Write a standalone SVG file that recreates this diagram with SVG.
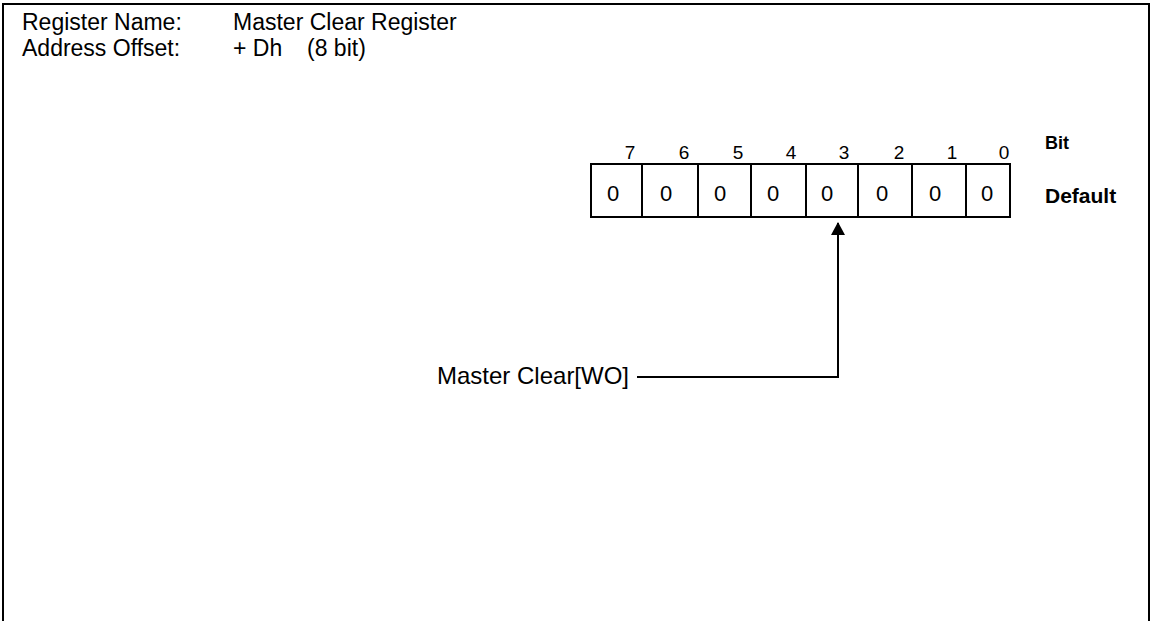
<svg xmlns="http://www.w3.org/2000/svg" width="1151" height="621" viewBox="0 0 1151 621">
<style>
text{font-family:"Liberation Sans",Arial,sans-serif;fill:#000}
.h{font-size:23px}
.l{font-size:24px}
.n{font-size:19px;text-anchor:middle}
.v{font-size:22px;text-anchor:middle}
.b{font-weight:bold}
.ln{stroke:#000;stroke-width:2;fill:none}
</style>
<defs>
<marker id="ah" markerWidth="13" markerHeight="14" refX="12" refY="7" orient="auto" markerUnits="userSpaceOnUse" viewBox="0 0 13 14">
<path d="M0,0 L13,7 L0,14 Z" fill="#000"/>
</marker>
</defs>
<rect width="1151" height="621" fill="#fff"/>
<path class="ln" d="M3,621 V4 H1149 V621"/>
<g id="header">
<text class="h" x="22" y="30">Register Name:</text>
<text class="h" x="233" y="30">Master Clear Register</text>
<text class="h" x="22" y="56">Address Offset:</text>
<text class="h" x="233" y="56">+ Dh</text>
<text class="h" x="307" y="56">(8 bit)</text>
</g>
<g id="register">
<rect class="ln" x="591" y="164" width="419" height="53"/>
<path class="ln" d="M642,164V217M698,164V217M751,164V217M806,164V217M858,164V217M912,164V217M966,164V217"/>
<text class="n" x="630" y="159">7</text>
<text class="n" x="684" y="159">6</text>
<text class="n" x="738" y="159">5</text>
<text class="n" x="791" y="159">4</text>
<text class="n" x="844" y="159">3</text>
<text class="n" x="899" y="159">2</text>
<text class="n" x="952" y="159">1</text>
<text class="n" x="1004" y="159">0</text>
<text class="v" x="613" y="201">0</text>
<text class="v" x="666" y="201">0</text>
<text class="v" x="720" y="201">0</text>
<text class="v" x="773" y="201">0</text>
<text class="v" x="827" y="201">0</text>
<text class="v" x="882" y="201">0</text>
<text class="v" x="935" y="201">0</text>
<text class="v" x="987" y="201">0</text>
<text class="b" x="1045" y="149" font-size="18">Bit</text>
<text class="b" x="1045" y="203" font-size="21">Default</text>
</g>
<g id="label">
<text class="l" x="437" y="384">Master Clear[WO]</text>
</g>
<g id="connectors">
<path class="ln" d="M637,377 H838 V223" marker-end="url(#ah)"/>
</g>
</svg>
